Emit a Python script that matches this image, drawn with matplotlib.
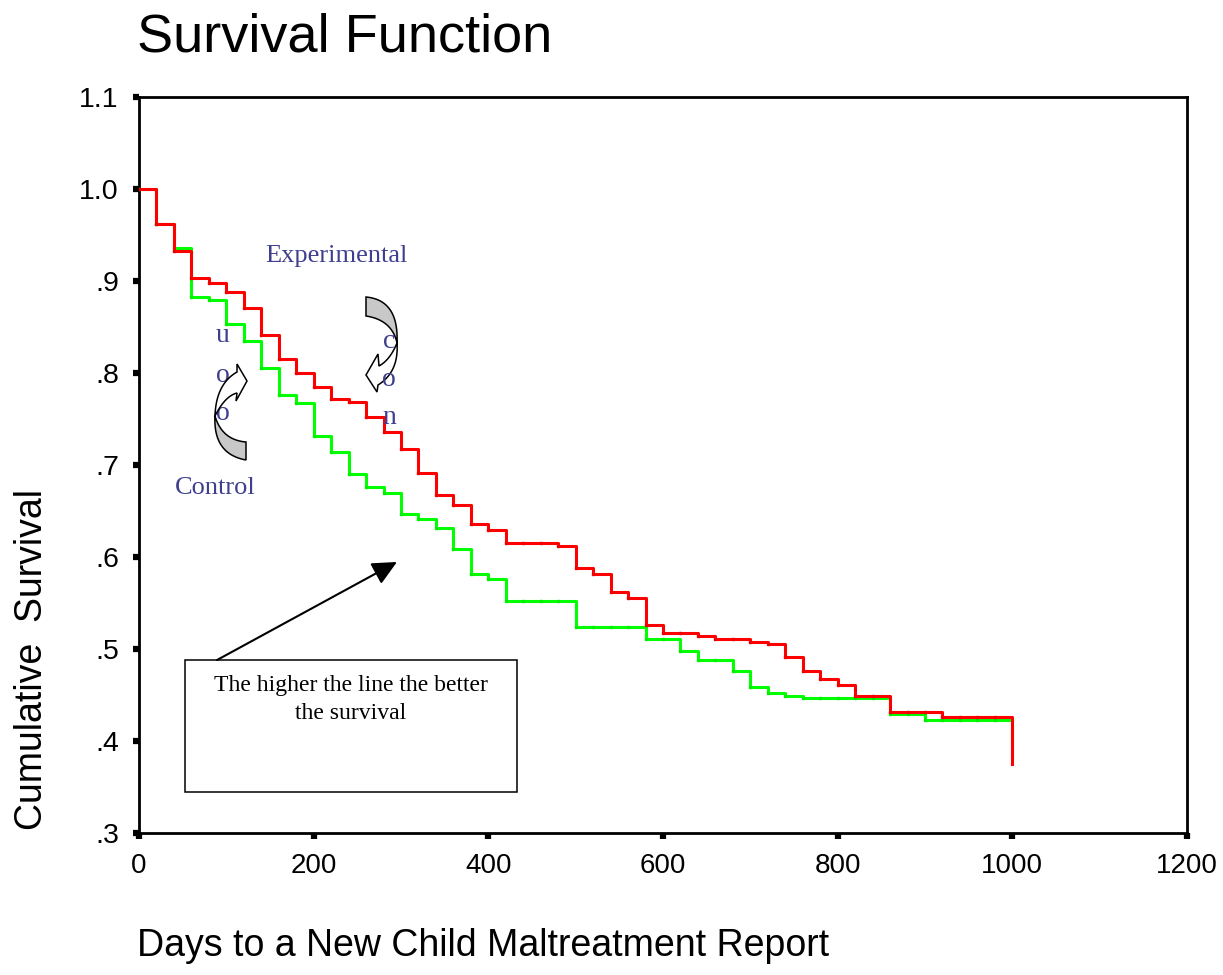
import numpy as np
import matplotlib
matplotlib.use("Agg")
import matplotlib.pyplot as plt
from matplotlib.patches import Polygon, Rectangle

# interval starts (days) of the life table, last entry = end of follow-up
days = list(range(0, 1001, 20))

# experimental group (red)
surv_exp = [1.000, 0.962, 0.933, 0.903, 0.8975, 0.888, 0.871, 0.841, 0.815, 0.800,
            0.785, 0.772, 0.768, 0.752, 0.7355, 0.717, 0.691, 0.6675, 0.656, 0.6355,
            0.629, 0.615, 0.615, 0.615, 0.612, 0.588, 0.5815, 0.5615, 0.555, 0.526,
            0.517, 0.517, 0.514, 0.511, 0.511, 0.508, 0.5055, 0.491, 0.4765, 0.467,
            0.461, 0.449, 0.449, 0.432, 0.432, 0.432, 0.4265, 0.4265, 0.4265, 0.4265,
            0.375]

# control group (green)
surv_ctl = [1.000, 0.962, 0.9355, 0.883, 0.879, 0.853, 0.835, 0.805, 0.776, 0.767,
            0.732, 0.714, 0.690, 0.676, 0.670, 0.647, 0.641, 0.632, 0.609, 0.5815,
            0.576, 0.5525, 0.5525, 0.5525, 0.5525, 0.5235, 0.5235, 0.5235, 0.5235, 0.511,
            0.511, 0.4975, 0.488, 0.488, 0.4765, 0.4584, 0.4525, 0.449, 0.447, 0.447,
            0.447, 0.447, 0.447, 0.429, 0.429, 0.4228, 0.4228, 0.4228, 0.4228, 0.4228,
            0.400]

x_ticks = [0, 200, 400, 600, 800, 1000, 1200]
y_ticks = [0.3, 0.4, 0.5, 0.6, 0.7, 0.8, 0.9, 1.0, 1.1]
y_tick_labels = [".3", ".4", ".5", ".6", ".7", ".8", ".9", "1.0", "1.1"]

W, H = 1223, 975
sans = "Liberation Sans"
serif = "Liberation Serif"
note_col = "#3f3f8f"

fig = plt.figure(figsize=(W / 100, H / 100), dpi=100)
ax = fig.add_axes([139 / W, 1 - 833 / H, (1187 - 139) / W, (833 - 97) / H])

ax.step(days, surv_ctl, where="post", color="#00ff00", lw=2.2, zorder=3)
ax.plot(days[:-1], surv_ctl[:-1], "s", color="#00ee00", ms=1.8, zorder=3)
ax.step(days, surv_exp, where="post", color="#ff0000", lw=2.2, zorder=4)
ax.plot(days[:-1], surv_exp[:-1], "s", color="#ee0000", ms=1.8, zorder=4)

ax.set_xlim(0, 1200)
ax.set_ylim(0.3, 1.1)
ax.set_xticks(x_ticks)
ax.set_xticklabels([str(t) for t in x_ticks], fontfamily=sans, fontsize=20)
ax.set_yticks(y_ticks)
ax.set_yticklabels(y_tick_labels, fontfamily=sans, fontsize=20.5)
ax.tick_params(direction="out", length=4.5, width=4.5, color="black")
ax.tick_params(axis="x", pad=10)
ax.tick_params(axis="y", pad=10)
for s in ax.spines.values():
    s.set_linewidth(2)

# text box with arrow
ax.add_patch(Rectangle((52.7, 0.3446), 380.1, 0.1434, fill=False, lw=1.1, ec="black", zorder=5))
ax.text(242.8, 0.4598, "The higher the line the better", ha="center", va="center",
        fontfamily=serif, fontsize=17, zorder=6)
ax.text(242.8, 0.4304, "the survival", ha="center", va="center",
        fontfamily=serif, fontsize=17, zorder=6)
ax.annotate("", xy=(295.4, 0.5946), xytext=(89.3, 0.488),
            arrowprops=dict(arrowstyle="-|>,head_length=0.75,head_width=0.36", mutation_scale=20,
                            lw=1.5, color="black", shrinkA=0, shrinkB=0), zorder=6)

ax.text(144.3, 0.927, "Experimental", fontfamily=serif, fontsize=19, color=note_col, va="center")
ax.text(41.2, 0.675, "Control", fontfamily=serif, fontsize=19, color=note_col, va="center")


def fpt(x, y):
    return (x / W, 1 - y / H)


def bez(p0, c, p1, n=25):
    t = np.linspace(0, 1, n)[:, None]
    p0, c, p1 = np.array(p0), np.array(c), np.array(p1)
    return (1 - t) ** 2 * p0 + 2 * (1 - t) * t * c + t ** 2 * p1


def curved_arrow(gray_out, gray_in, band_a, band_b, head):
    g = np.vstack([bez(*gray_out), bez(*gray_in)[::-1]])
    b = np.vstack([bez(*band_a), np.array(head), bez(*band_b)[::-1]])
    for pts, fc in ((g, "#c8c8c8"), (b, "white")):
        pts = np.array([fpt(px, py) for px, py in pts])
        fig.add_artist(Polygon(pts, closed=True, fc=fc, ec="black", lw=1.1,
                               transform=fig.transFigure, zorder=5))


# letters under the arrows
for ch, px, py in (("u", 223, 335), ("o", 223, 375), ("o", 223, 413)):
    fig.text(px / W, 1 - py / H, ch, fontfamily=serif, fontsize=20, color=note_col,
             ha="center", va="center", zorder=4)

# left curved arrow (pointing right)
curved_arrow(((246, 460), (213, 454), (215, 416)),
             ((246, 442), (222, 440), (215, 416)),
             ((215, 416), (216, 384), (237, 372)),
             ((215, 416), (225, 396), (237, 393)),
             [(237, 364), (247, 381), (236, 401)])

# right curved arrow (pointing left)
curved_arrow(((366, 297), (399, 300), (397, 343)),
             ((366, 316), (392, 320), (397, 343)),
             ((397, 343), (390, 360), (379, 366)),
             ((397, 343), (399, 372), (378, 385)),
             [(378, 354), (366, 375), (377, 392)])

for ch, px, py in (("c", 389, 342), ("o", 389, 380), ("n", 389, 418)):
    fig.text(px / W, 1 - py / H, ch, fontfamily=serif, fontsize=20, color=note_col,
             ha="center", va="center", zorder=6)

fig.text(137 / W, 1 - 38 / H, "Survival Function", fontfamily=sans, fontsize=39, va="center")
fig.text(137 / W, 1 - 946 / H, "Days to a New Child Maltreatment Report", fontfamily=sans,
         fontsize=27, va="center")
fig.text(32 / W, 1 - 659 / H, "Cumulative  Survival", fontfamily=sans, fontsize=27,
         rotation=90, ha="center", va="center")

fig.savefig("out.png", dpi=100)
